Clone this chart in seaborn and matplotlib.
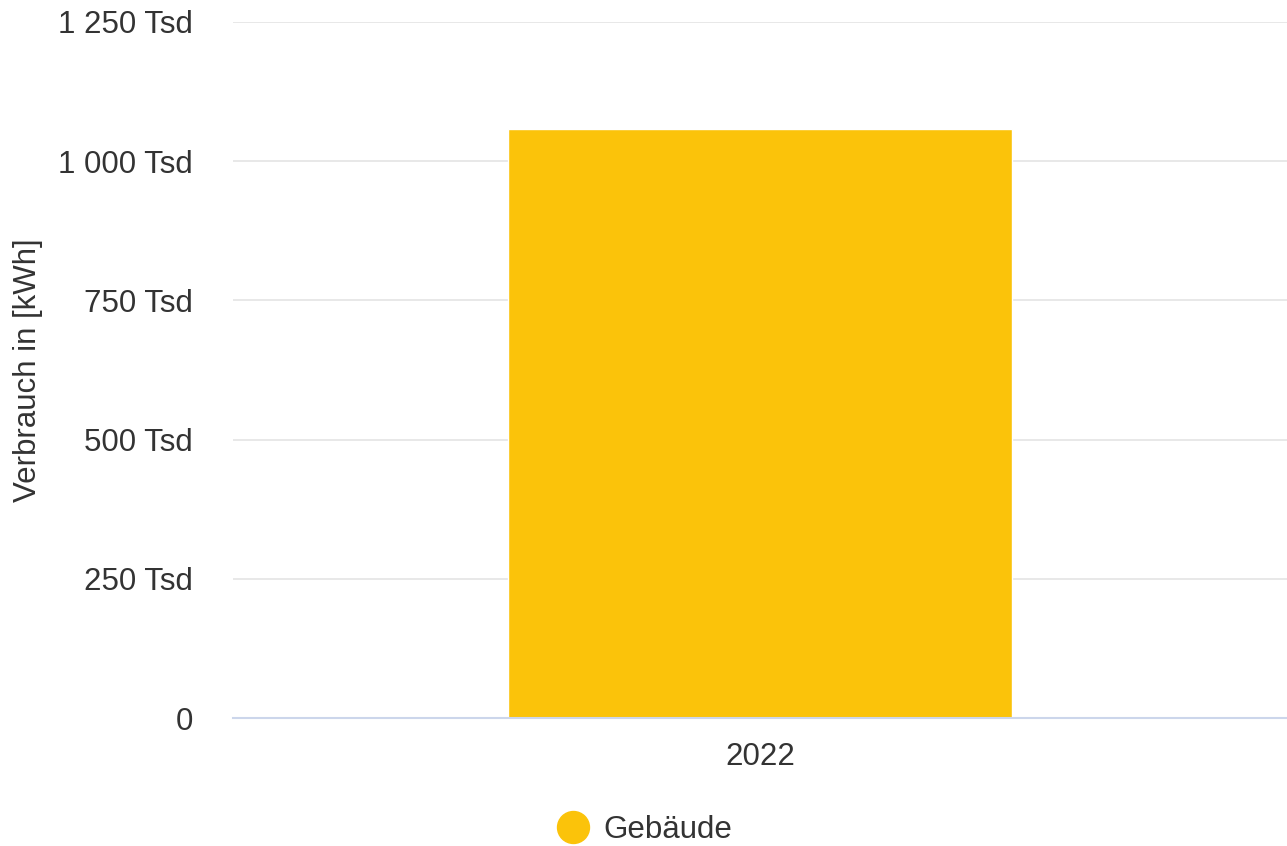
import matplotlib
matplotlib.use("Agg")
import matplotlib.pyplot as plt
from matplotlib.lines import Line2D
from matplotlib.ticker import FuncFormatter
import seaborn as sns
import pandas as pd

# Data
years = ["2022"]
verbrauch_kwh = [1057000]
series_name = "Gebäude"
y_ticks = [0, 250000, 500000, 750000, 1000000, 1250000]

df = pd.DataFrame({"Jahr": years, "Verbrauch": verbrauch_kwh})

sns.set_theme(style="white")
plt.rcParams["font.family"] = ["Liberation Sans", "DejaVu Sans"]

FS = 22.5
TXT = "#333333"

fig = plt.figure(figsize=(12.87, 8.46), dpi=100)
ax = fig.add_axes([0.181, 0.1513, 0.819, 0.8227])

bar_color = "#FBC30A"
sns.barplot(data=df, x="Jahr", y="Verbrauch", color=bar_color, width=0.479,
            saturation=1, ax=ax, zorder=3)

ax.set_xlim(-0.5, 0.5)
ax.set_ylim(0, 1250000)
ax.set_yticks(y_ticks)


def tsd(v, _pos):
    if v == 0:
        return "0"
    s = f"{int(round(v / 1000)):,}".replace(",", " ")
    return f"{s} Tsd"


ax.yaxis.set_major_formatter(FuncFormatter(tsd))
ax.grid(axis="y", color="#E6E6E6", linewidth=1.3, zorder=0)
ax.grid(axis="x", visible=False)
for s in ["top", "right", "left"]:
    ax.spines[s].set_visible(False)
ax.spines["bottom"].set_color("#CCD6EB")
ax.spines["bottom"].set_linewidth(1.5)
ax.spines["bottom"].set_zorder(4)

ax.tick_params(axis="y", length=0, labelsize=FS, labelcolor=TXT, pad=29)
ax.tick_params(axis="x", length=0, labelsize=FS, labelcolor=TXT, pad=17)
ax.set_xlabel("")
ax.set_ylabel("Verbrauch in [kWh]", fontsize=FS, color=TXT)
ax.yaxis.set_label_coords(-0.18, 0.5)

handle = Line2D([], [], marker="o", linestyle="none", markersize=23,
                markerfacecolor=bar_color, markeredgecolor=bar_color)
fig.legend([handle], [series_name], loc="center", bbox_to_anchor=(0.501, 0.019),
           frameon=False, fontsize=FS, handlelength=1.0, handletextpad=0.45,
           labelcolor=TXT, borderpad=0)

fig.savefig("out.png", dpi=100)
